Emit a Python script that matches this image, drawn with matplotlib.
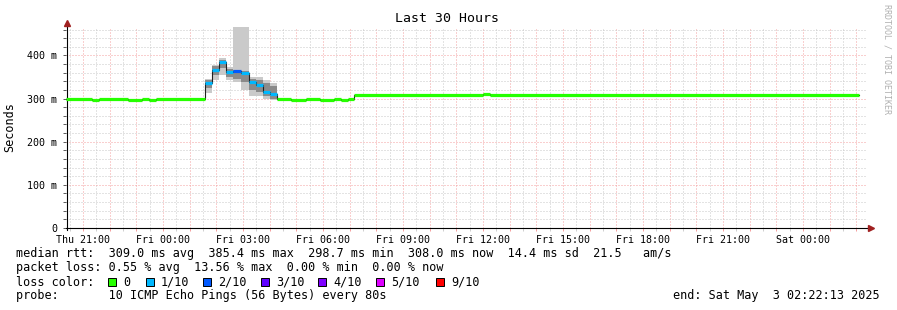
import numpy as np
import matplotlib
matplotlib.use("Agg")
import matplotlib.pyplot as plt
from matplotlib.patches import Rectangle
from matplotlib.ticker import MultipleLocator

# time in hours since Thu 21:00; data window = last 30 hours
T_START, T_END = -0.63, 29.37
edges = [-0.63, 0.34, 0.60, 1.69, 2.21, 2.47, 2.74, 4.59, 4.84, 5.10, 5.36,
         5.64, 5.94, 6.23, 6.49, 6.75, 7.01, 7.27, 7.80, 8.36, 8.89, 9.41,
         9.68, 9.94, 10.16, 15.00, 15.26, 29.10]
median = [300, 297, 300, 297, 300, 297, 300, 337, 367, 384, 361, 363, 360,
          338, 332, 315, 310, 300, 297, 300, 297, 300, 297, 300, 308, 310, 308]
loss = [0, 0, 0, 0, 0, 0, 0, 1, 1, 1, 1, 2, 1, 1, 1, 1, 1,
        0, 0, 0, 0, 0, 0, 0, 0, 0, 0]
# smoke (min/max of the pings and the inner spread), only where visible
smoke_lo = [300, 297, 300, 297, 300, 297, 300, 312, 344, 355, 344, 338, 321,
            307, 305, 298, 296, 300, 297, 300, 297, 300, 297, 300, 308, 310, 308]
smoke_hi = [300, 297, 300, 297, 300, 297, 300, 346, 379, 393, 373, 470, 470,
            351, 349, 342, 336, 300, 297, 300, 297, 300, 297, 300, 308, 310, 308]
core_lo = [300, 297, 300, 297, 300, 297, 300, 325, 355, 372, 350, 345, 338,
           320, 315, 305, 300, 300, 297, 300, 297, 300, 297, 300, 308, 310, 308]
core_hi = [300, 297, 300, 297, 300, 297, 300, 342, 375, 390, 368, 366, 365,
           346, 342, 336, 330, 300, 297, 300, 297, 300, 297, 300, 308, 310, 308]

tick_hours = [0, 3, 6, 9, 12, 15, 18, 21, 24, 27]
tick_labels = ["Thu 21:00", "Fri 00:00", "Fri 03:00", "Fri 06:00", "Fri 09:00",
               "Fri 12:00", "Fri 15:00", "Fri 18:00", "Fri 21:00", "Sat 00:00"]
loss_names = ["0", "1/10", "2/10", "3/10", "4/10", "5/10", "9/10"]
loss_colors = ["#26ff00", "#00b8ff", "#0059ff", "#5e00ff", "#7e00ff", "#dd00ff", "#ff0000"]

MONO = "DejaVu Sans Mono"
W, H = 897, 310
fig = plt.figure(figsize=(W / 100, H / 100), dpi=100)
fig.patch.set_facecolor("white")
ax = fig.add_axes([66.2 / W, (H - 228) / H, 800 / W, 201 / H])
ax.set_xlim(T_START, T_END)
ax.set_ylim(0, 466)

e = np.array(edges)
lo = np.array(smoke_lo); hi = np.array(smoke_hi)
clo = np.array(core_lo); chi = np.array(core_hi)
m = np.array(median)
mask = hi > lo
ax.bar(e[:-1][mask], (hi - lo)[mask], bottom=lo[mask], width=np.diff(e)[mask],
       align="edge", color="#cacaca", linewidth=0, zorder=2)
ax.bar(e[:-1][mask], (chi - clo)[mask], bottom=clo[mask], width=np.diff(e)[mask],
       align="edge", color="#8a8a8a", linewidth=0, zorder=3)
ax.step(e, list(m) + [m[-1]], where="post", color="#202020", lw=0.8, zorder=4)
ax.hlines(m, e[:-1], e[1:], colors=[loss_colors[l] for l in loss], lw=2.3, zorder=5)

# grid and ticks
ax.xaxis.set_major_locator(MultipleLocator(1))
ax.xaxis.set_minor_locator(MultipleLocator(0.5))
ax.yaxis.set_major_locator(MultipleLocator(100))
ax.yaxis.set_minor_locator(MultipleLocator(20))
ax.set_axisbelow(True)
ax.grid(which="major", color="#f5a0a0", ls=(0, (1, 2)), lw=0.72)
ax.grid(which="minor", color="#c8c8c8", ls=(0, (1, 2)), lw=0.72)
ax.set_xticks(range(0, 30))
ax.set_xticklabels([tick_labels[tick_hours.index(h)] if h in tick_hours else ""
                    for h in range(0, 30)], fontfamily=MONO, fontsize=7.2)
yt = [0, 100, 200, 300, 400]
ax.set_yticks(yt)
ax.set_yticklabels(["0" if v == 0 else f"{v} m" for v in yt], fontfamily=MONO, fontsize=7.2)
ax.tick_params(axis="x", which="major", direction="out", length=2, width=0.72, color="#f5a0a0", pad=3)
ax.tick_params(axis="x", which="minor", direction="out", length=2, width=0.72, color="#cfcfcf")
ax.tick_params(axis="y", which="both", direction="out", length=2.5, width=0.6, color="#404040")
ax.tick_params(axis="y", which="major", pad=4)
for s in ["top", "right", "left", "bottom"]:
    ax.spines[s].set_visible(False)
ax.plot([0, 1.0045], [0, 0], transform=ax.transAxes, color="black", lw=0.8, clip_on=False)
ax.plot([0.001, 0.001], [-0.012, 1.01], transform=ax.transAxes, color="black", lw=0.8, clip_on=False)
ax.plot([1.006], [0], marker=">", ms=4, color="#a02020", transform=ax.transAxes, clip_on=False)
ax.plot([0.001], [1.022], marker="^", ms=4, color="#a02020", transform=ax.transAxes, clip_on=False)

# overlay in pixel coordinates for title and legend text
ov = fig.add_axes([0, 0, 1, 1], facecolor="none")
ov.set_xlim(0, W); ov.set_ylim(H, 0); ov.axis("off")
ov.text(447, 19, "Last 30 Hours", family=MONO, fontsize=9.5, ha="center", va="center")
ov.text(10, 127, "Seconds", family=MONO, fontsize=8.5, rotation=90, ha="center", va="center")
ov.text(887, 4, "RRDTOOL / TOBI OETIKER", family=MONO, fontsize=6.0, rotation=270,
        ha="center", va="top", color="#b0b0b0")
txt = dict(family=MONO, fontsize=8.5, va="center", ha="left")
ov.text(16, 254, "median rtt:  309.0 ms avg  385.4 ms max  298.7 ms min  308.0 ms now  14.4 ms sd  21.5   am/s", **txt)
ov.text(16, 268, "packet loss: 0.55 % avg  13.56 % max  0.00 % min  0.00 % now", **txt)
ov.text(16, 282, "loss color:", **txt)
ov.text(16, 296, "probe:       10 ICMP Echo Pings (56 Bytes) every 80s", **txt)
ov.text(880, 296, "end: Sat May  3 02:22:13 2025", family=MONO, fontsize=8.5, va="center", ha="right")
box_x = [108, 146, 203, 261, 318, 376, 436]
for bx, name, col in zip(box_x, loss_names, loss_colors):
    ov.add_patch(Rectangle((bx, 278), 8, 8, facecolor=col, edgecolor="black", lw=0.7))
    ov.text(bx + 15, 282, name, **txt)

fig.savefig("out.png", dpi=100)
